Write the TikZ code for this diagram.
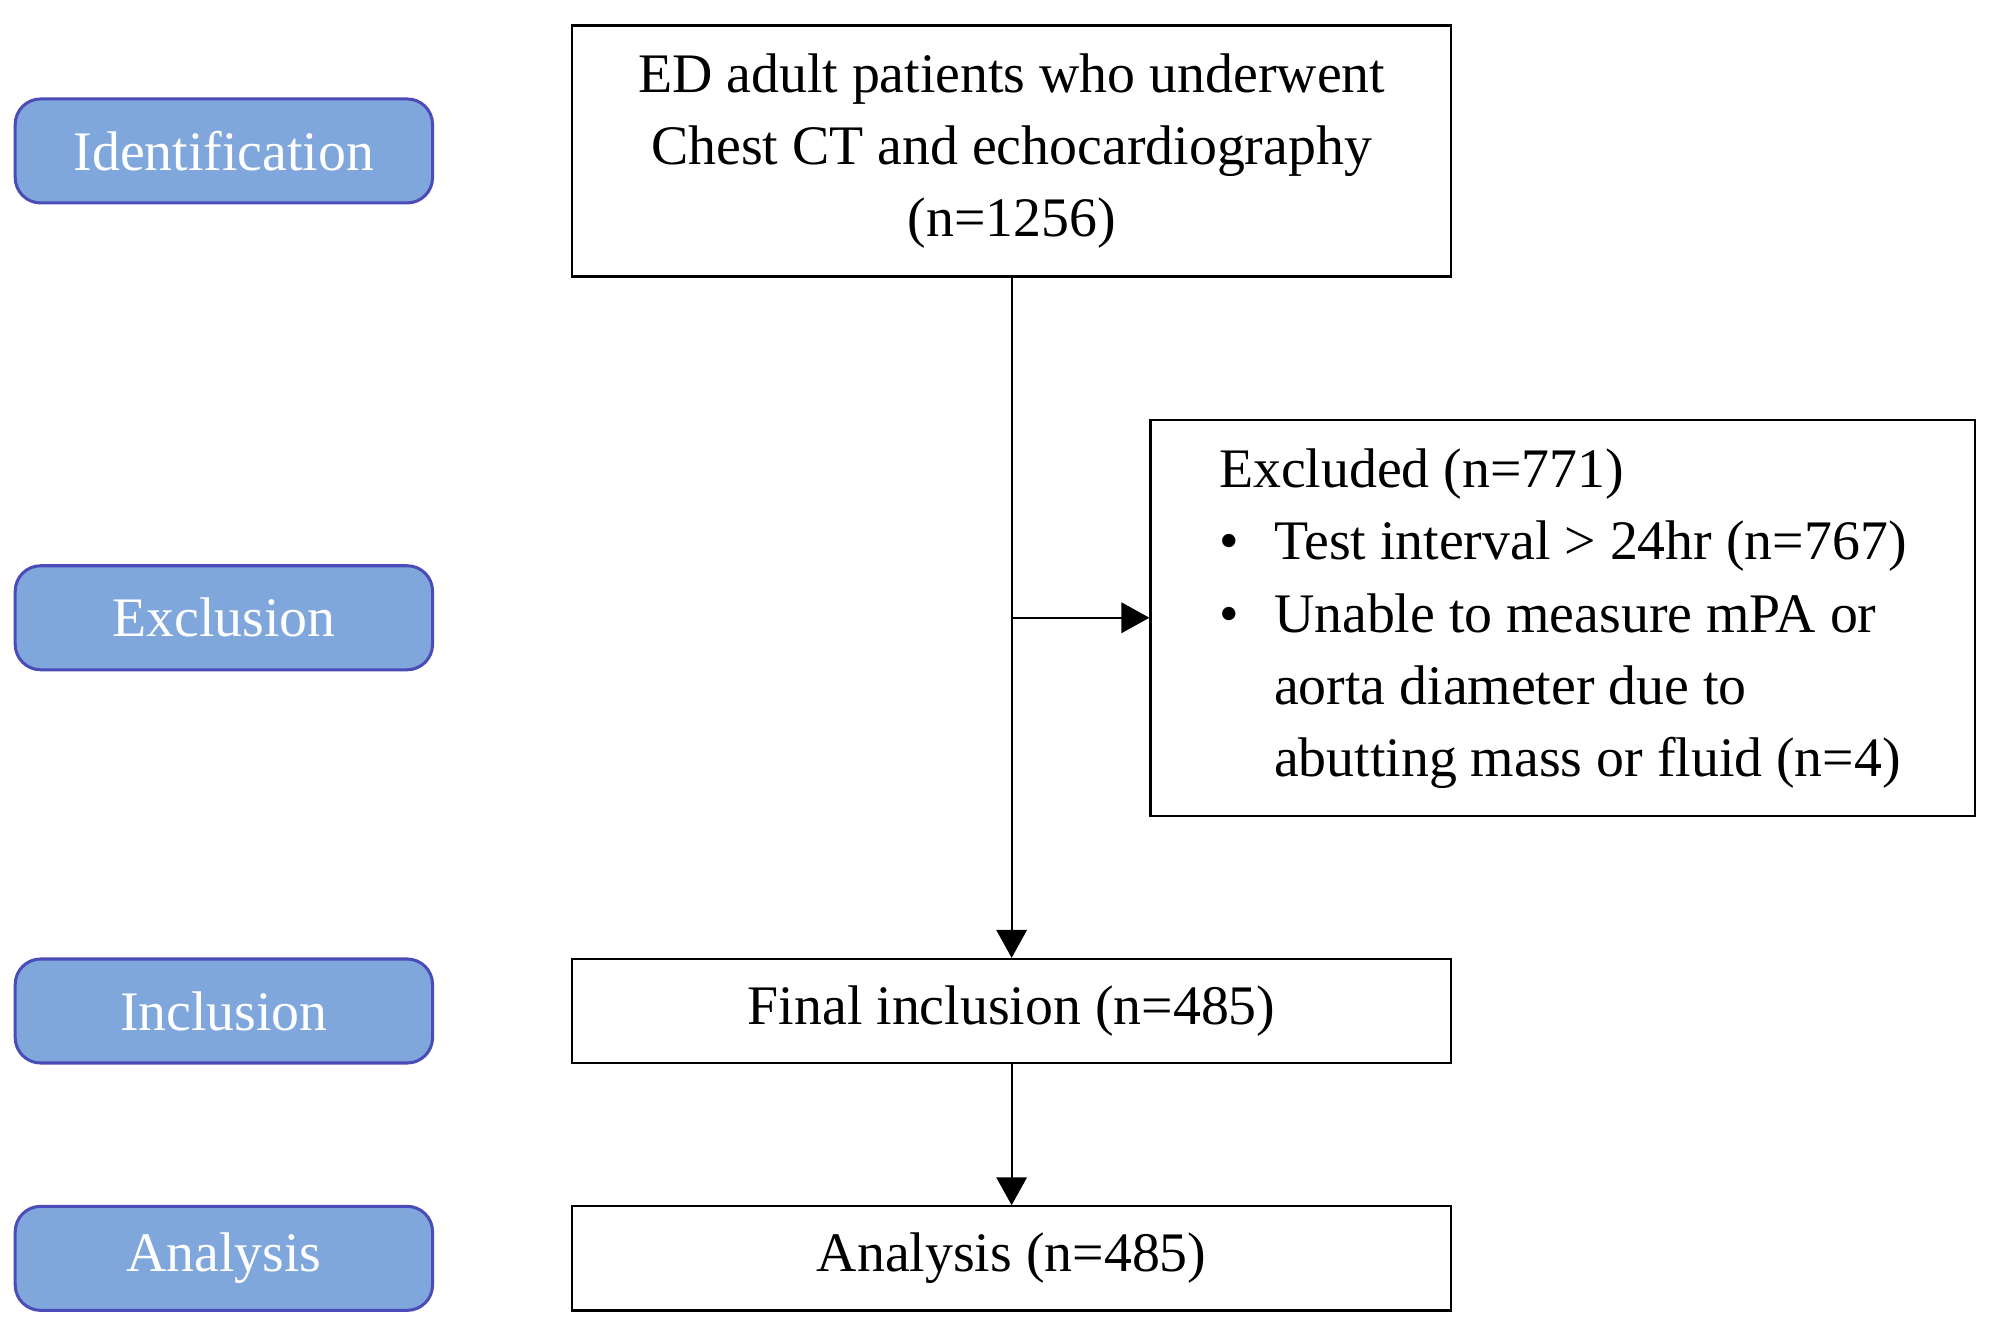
\documentclass[tikz,border=0pt]{standalone}
\usepackage{fontspec}
\setmainfont{Liberation Serif}
\usetikzlibrary{arrows.meta}
\begin{document}
\begin{tikzpicture}[x=0.5pt,y=-0.5pt,
  pill/.style={draw=blue!60!black!70, fill={rgb,255:red,127;green,167;blue,220}, line width=1.2pt, rounded corners=10pt, text=white, font=\fontsize{22}{28}\selectfont},
  box/.style={draw, line width=0.9pt, font=\fontsize{22}{28.5}\selectfont, align=center},
  arr/.style={line width=0.7pt, -{Triangle[length=11pt,width=12pt]}}]
\useasboundingbox (0,0) rectangle (1568,1050);
\node[pill, minimum width=164.5pt, minimum height=41pt] (p1) at (176.5,119) {Identification};
\node[pill, minimum width=164.5pt, minimum height=41pt] (p2) at (176.5,487) {Exclusion};
\node[pill, minimum width=164.5pt, minimum height=41pt] (p3) at (176.5,797) {Inclusion};
\node[pill, minimum width=164.5pt, minimum height=41pt] (p4) at (176.5,992) {Analysis};
\node[box, minimum width=346.5pt, minimum height=99pt] (b1) at (797.5,119) {ED adult patients who underwent\\Chest CT and echocardiography\\(n=1256)};
\node[box, minimum width=346.5pt, minimum height=41pt] (b3) at (797.5,797) {Final inclusion (n=485)};
\node[box, minimum width=346.5pt, minimum height=41pt] (b4) at (797.5,992) {Analysis (n=485)};
\node[box, minimum width=325pt, minimum height=156pt, align=left] (b2) at (1232,487) {%
\begin{tabular}{@{}l@{\hspace{14pt}}l@{}}
\multicolumn{2}{@{}l}{Excluded (n=771)}\\
\textbullet & Test interval > 24hr (n=767)\\
\textbullet & Unable to measure mPA or\\
 & aorta diameter due to\\
 & abutting mass or fluid (n=4)
\end{tabular}};
\draw[arr] (b1.south) -- (b3.north);
\coordinate (br) at (798,487);
\draw[arr] (br) -- (b2.west);
\draw[arr] (b3.south) -- (b4.north);
\end{tikzpicture}
\end{document}
